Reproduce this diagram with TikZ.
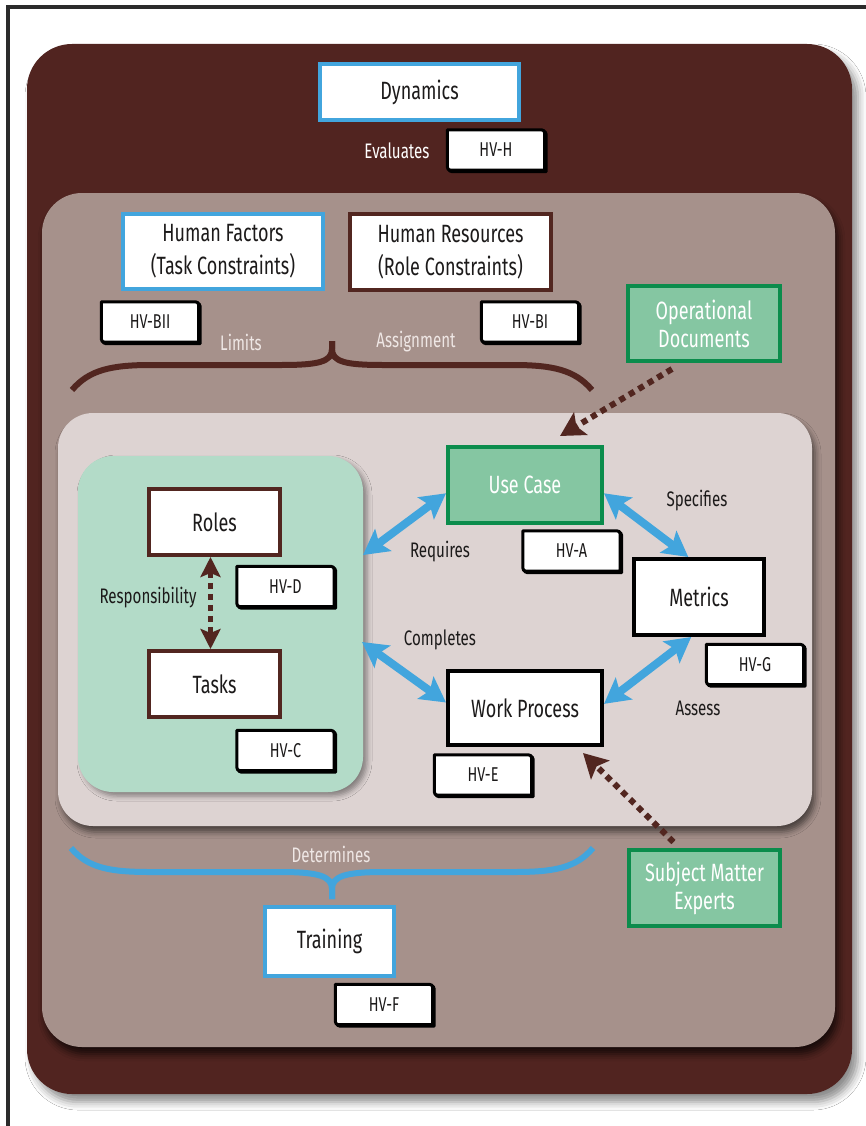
\documentclass[tikz,border=0pt]{standalone}
\usepackage{fontspec}
\setmainfont{Fira Sans}[FakeStretch=0.72]
\usetikzlibrary{arrows.meta,shadows.blur}

\definecolor{darkbrown}{HTML}{512420}
\definecolor{mauve}{HTML}{A6918B}
\definecolor{paleinner}{HTML}{DDD3D2}
\definecolor{mint}{HTML}{B3DBC8}
\definecolor{greenfill}{HTML}{85C6A2}
\definecolor{greenline}{HTML}{0B8C4C}
\definecolor{skyblue}{HTML}{42A5DD}
\definecolor{boxbrown}{HTML}{522620}
\definecolor{inktext}{HTML}{1C1A1A}
\definecolor{lighttext}{HTML}{EFE7E5}
\definecolor{framegray}{HTML}{2B2B2B}

\newcommand\boxfnt{\fontsize{25}{32}\selectfont}
\newcommand\twofnt{\fontsize{25}{28}\selectfont}
\newcommand\labfnt{\fontsize{21}{24}\selectfont}
\newcommand\tagfnt{\fontsize{20}{24}\selectfont}

% outline of an HV tag: rounded top-right and bottom-left corners
\newcommand\tagoutline[2]{%
  ([shift={(#2,#2)}]#1.north west)
  -- ([shift={(#2-7,#2)}]#1.north east)
  .. controls ([shift={(#2,#2)}]#1.north east) .. ([shift={(#2,#2+7)}]#1.north east)
  -- ([shift={(#2,#2)}]#1.south east)
  -- ([shift={(#2+7,#2)}]#1.south west)
  .. controls ([shift={(#2,#2)}]#1.south west) .. ([shift={(#2,#2-7)}]#1.south west)
  -- cycle}

\newcommand\hvtag[3]{%
  \node[tagsize] (#1) at (#2) {};
  \draw[line width=3pt, line join=round] \tagoutline{#1}{1.5};
  \filldraw[tagline] \tagoutline{#1}{0};
  \node[tagtext] (#1-t) at (#1) {#3};
}

\tikzset{
  box/.style={draw, line width=4pt, fill=white, text=inktext, align=center,
    inner sep=0pt, font=\boxfnt},
  bluebox/.style={box, draw=skyblue},
  brownbox/.style={box, draw=boxbrown},
  blackbox/.style={box, draw=black},
  greenbox/.style={box, draw=greenline, fill=greenfill, text=white, font=\twofnt},
  tagsize/.style={minimum width=97pt, minimum height=40pt, inner sep=0pt},
  tagline/.style={draw=black, line width=3pt, fill=white, line join=round},
  tagtext/.style={text=inktext, font=\tagfnt},
  lab/.style={text=inktext, font=\labfnt},
  lablight/.style={text=lighttext, font=\labfnt},
  bluearrow/.style={draw=skyblue, line width=8pt,
    {Stealth[length=25pt,width=27pt,inset=5pt]}-{Stealth[length=25pt,width=27pt,inset=5pt]}},
  dotarrow/.style={draw=boxbrown, line width=6pt, dash pattern=on 6pt off 5pt,
    -{Stealth[length=24pt,width=26pt,inset=5pt]}},
  dotdouble/.style={draw=boxbrown, line width=5pt, dash pattern=on 6pt off 5pt,
    {Stealth[length=20pt,width=20pt,inset=4pt]}-{Stealth[length=20pt,width=20pt,inset=4pt]}},
  brace/.style={line width=6pt, line cap=butt},
}

\begin{document}
\begin{tikzpicture}[x=1pt,y=-1pt]
\useasboundingbox (0,0) rectangle (866,1126);
\fill[white] (0,0) rectangle (866,1126);

% page frame
\draw[framegray, line width=4pt, line join=miter] (7.5,1126) -- (7.5,7) -- (866,7);

% nested panels
\fill[darkbrown, rounded corners=45pt,
  blur shadow={shadow xshift=6pt, shadow yshift=-8pt, shadow blur radius=8pt, shadow opacity=45}]
  (27,44) rectangle (852,1094);
\fill[mauve, rounded corners=40pt,
  blur shadow={shadow xshift=3pt, shadow yshift=-7pt, shadow blur radius=7pt, shadow opacity=70}]
  (42,193) rectangle (835,1047);
\fill[paleinner, rounded corners=35pt,
  blur shadow={shadow xshift=3pt, shadow yshift=-6pt, shadow blur radius=6pt, shadow opacity=55}]
  (58,413) rectangle (812,826);
\fill[mint, rounded corners=35pt,
  blur shadow={shadow xshift=4pt, shadow yshift=-4pt, shadow blur radius=5pt, shadow opacity=40}]
  (78,456) rectangle (363,792);

% braces
\draw[boxbrown, brace] (72,390) .. controls (89,370) and (111,365) .. (151,365) -- (281,365)
  .. controls (318,365) and (332,362) .. (332,349) -- (332,341);
\draw[boxbrown, brace] (592,390) .. controls (575,370) and (553,365) .. (513,365) -- (383,365)
  .. controls (346,365) and (332,362) .. (332,349) -- (332,341);
\draw[skyblue, brace] (71,848) .. controls (88,868) and (110,872) .. (150,872) -- (280,872)
  .. controls (318,872) and (332,876) .. (332,889) -- (332,899);
\draw[skyblue, brace] (593,848) .. controls (576,868) and (554,872) .. (514,872) -- (384,872)
  .. controls (346,872) and (332,876) .. (332,889) -- (332,899);

% boxes
\node[bluebox, minimum width=199pt, minimum height=56pt] (dyn) at (419.5,92) {Dynamics};
\node[bluebox, minimum width=200pt, minimum height=75pt, font=\fontsize{25}{33}\selectfont]
  (hf) at (223,251.5) {Human Factors\\(Task Constraints)};
\node[brownbox, minimum width=201pt, minimum height=76pt, font=\fontsize{25}{33}\selectfont]
  (hr) at (450.5,252) {Human Resources\\(Role Constraints)};
\node[greenbox, minimum width=152pt, minimum height=75pt] (od) at (704,323.5) {Operational\\Documents};
\node[greenbox, minimum width=154pt, minimum height=76pt, font=\boxfnt] (uc) at (525,485) {Use Case};
\node[blackbox, minimum width=130pt, minimum height=76pt] (met) at (699,597) {Metrics};
\node[blackbox, minimum width=154pt, minimum height=74pt] (wp) at (525,708) {Work Process};
\node[brownbox, minimum width=131pt, minimum height=66pt] (roles) at (214.5,522) {Roles};
\node[brownbox, minimum width=131pt, minimum height=66pt] (tasks) at (214.5,684) {Tasks};
\node[greenbox, minimum width=151pt, minimum height=76pt] (sme) at (704.5,888) {Subject Matter\\Experts};
\node[bluebox, minimum width=129pt, minimum height=69pt] (train) at (329.5,941.5) {Training};

% HV tags
\hvtag{hvh}{496,150}{HV-H}
\hvtag{hvbii}{150,322}{HV-BII}
\hvtag{hvbi}{530,322}{HV-BI}
\hvtag{hva}{571.5,551}{HV-A}
\hvtag{hvg}{755,664.5}{HV-G}
\hvtag{hve}{483,775}{HV-E}
\hvtag{hvd}{285.5,586.5}{HV-D}
\hvtag{hvc}{285.5,750.5}{HV-C}
\hvtag{hvf}{384,1004.5}{HV-F}

% relation labels
\node[lablight, text=white] (lev) at (397,151) {Evaluates};
\node[lablight] (llim) at (241,342) {Limits};
\node[lablight] (lasg) at (416,342) {Assignment};
\node[lablight] (ldet) at (331,854) {Determines};
\node[lab] (lspec) at (697,501) {Specifies};
\node[lab] (lreq) at (440,552) {Requires};
\node[lab] (lcomp) at (440,640) {Completes};
\node[lab] (lass) at (698,708) {Assess};
\node[lab] (lresp) at (148,598) {Responsibility};

% connectors
\coordinate (reqend) at (363,555);
\coordinate (compend) at (362,642);
\coordinate (odtip) at (560,436);
\coordinate (smetip) at (583,753);

\draw[bluearrow] (reqend) -- (uc.186);
\draw[bluearrow] (uc.354) -- (met.105);
\draw[bluearrow] (compend) -- (wp.176);
\draw[bluearrow] (met.259) -- (wp.3);

\draw[dotarrow] ([xshift=-32pt,yshift=-6pt]od.south) -- (odtip);
\draw[dotarrow] ([xshift=-31pt,yshift=6pt]sme.north) -- (smetip);
\draw[dotdouble] ([xshift=-4pt]roles.south) -- ([xshift=-4pt]tasks.north);

\end{tikzpicture}
\end{document}
